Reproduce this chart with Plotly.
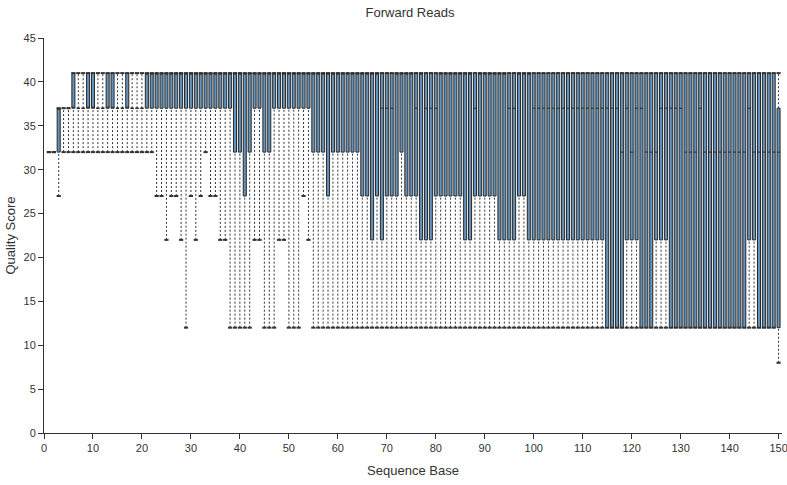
import plotly.graph_objects as go

bases = list(range(1, 151))

# lower whisker (2nd pct), q1, median, q3, upper whisker (98th pct)
lo = ([32, 32, 27] + [32] * 19 +
      [27, 27, 22, 27, 27, 22, 12, 27, 22, 27, 32, 27, 27, 22, 22] +
      [12, 12, 12, 12, 12, 22, 22, 12, 12, 12, 22, 22, 12, 12, 12, 27, 22] +
      [12] * 95 + [8])

q1 = ([32, 32, 32, 37, 37] + [37] * 15 + [37] * 18 +
      [32, 32, 27, 32, 37, 37, 32, 32, 37, 37, 37, 37, 37, 37, 37, 37] +
      [32, 32, 32, 27, 32, 32, 32, 32, 32, 32] +
      [27, 27, 22, 27, 22, 27, 27, 27, 32, 27, 27, 27, 22, 22, 22] +
      [27] * 6 + [22, 22] + [27] * 5 + [22] * 4 + [27, 27] + [22] * 16 +
      [12] * 4 + [22] * 3 + [12] * 3 + [22] * 3 + [12] * 16 + [22] * 2 + [12] * 5)

med = ([32, 32, 37, 37, 37] + [37] * 15 + [41] * 47 +
       [41, 37, 37, 37, 41, 41, 41, 41, 37, 41, 37, 37, 37] +
       [41] * 7 + [37] + [41] * 6 + [37, 37] + [41] * 3 + [37] * 15 +
       [37, 37, 37, 32, 37, 32, 37, 37, 32, 32, 32, 37, 37, 37, 37, 37,
        32, 32, 32, 37] + [32] * 9 + [37] + [32] * 6 + [27])

q3 = ([32, 32, 37, 37, 37, 41, 37, 37, 41, 41, 37, 37, 41, 41, 37, 37, 41,
       37, 37, 37] + [41] * 129 + [37])

hi = [32, 32, 37, 37, 37] + [41] * 145

fig = go.Figure()

# dotted whiskers
wx, wy = [], []
cx, cy = [], []
for b, a, l, u, h in zip(bases, lo, q1, q3, hi):
    if a < l:
        wx += [b, b, None]
        wy += [a, l, None]
    if h > u:
        wx += [b, b, None]
        wy += [u, h, None]
    cx += [b, b]
    cy += [a, h]

fig.add_trace(go.Scatter(x=wx, y=wy, mode="lines",
                         line=dict(color="#333333", width=1, dash="2px,2px"),
                         hoverinfo="skip", showlegend=False))
fig.add_trace(go.Scatter(x=cx, y=cy, mode="markers",
                         marker=dict(symbol="line-ew", size=3,
                                     line=dict(color="#333333", width=2)),
                         hoverinfo="skip", showlegend=False))

fig.add_trace(go.Box(x=bases, q1=q1, median=med, q3=q3,
                     lowerfence=q1, upperfence=q3,
                     width=0.62, whiskerwidth=0, boxpoints=False,
                     fillcolor="#6492ba",
                     line=dict(color="#2a2a2a", width=1),
                     showlegend=False))

font_family = "Arial, Liberation Sans, sans-serif"
fig.update_layout(
    width=787, height=485,
    margin=dict(l=44, r=5, t=38, b=52, autoexpand=False),
    plot_bgcolor="white", paper_bgcolor="white",
    font=dict(family=font_family, size=11, color="#333333"),
    title=dict(text="Forward Reads", x=0.521, xanchor="center", y=0.975,
               yanchor="middle", font=dict(size=13, color="#333333")),
    xaxis=dict(range=[0, 150.7], tickmode="array",
               tickvals=list(range(0, 151, 10)),
               ticklabeloverflow="allow",
               showgrid=False, zeroline=False, automargin=False,
               showline=True, linecolor="#333333", linewidth=1,
               ticks="outside", ticklen=5, tickcolor="#333333",
               title=dict(text="Sequence Base", standoff=12,
                          font=dict(size=13))),
    yaxis=dict(range=[0, 45], tickvals=list(range(0, 46, 5)),
               ticklabeloverflow="allow",
               showgrid=False, zeroline=False, automargin=False,
               showline=True, linecolor="#333333", linewidth=1,
               ticks="outside", ticklen=5, tickcolor="#333333"),
    annotations=[dict(text="Quality Score", textangle=-90,
                      xref="paper", yref="paper",
                      x=(10 - 44) / 738, y=0.5,
                      xanchor="center", yanchor="middle",
                      showarrow=False, font=dict(size=13, color="#333333"))],
)

fig.write_html("out.html", config={"displayModeBar": False},
               post_script="document.body.style.margin='0px';")
